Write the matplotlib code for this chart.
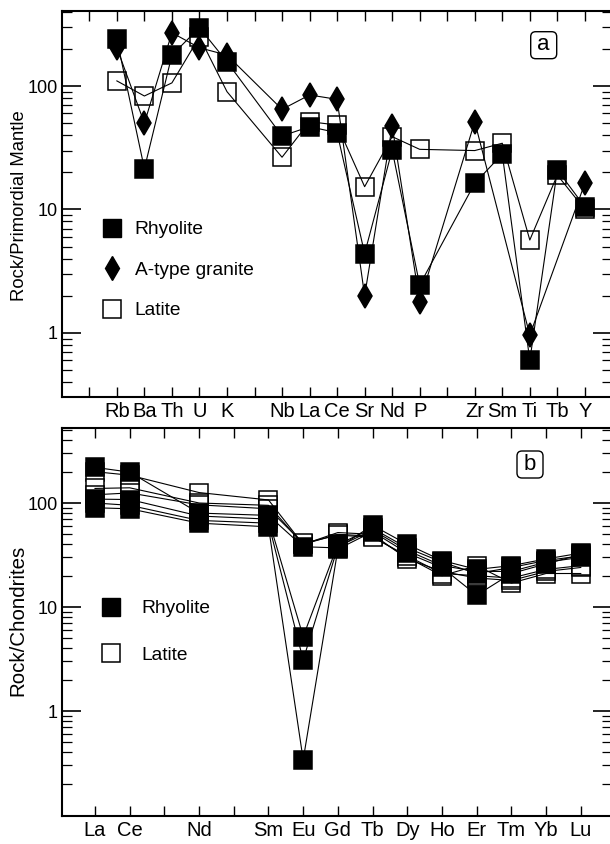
import numpy as np
import matplotlib
matplotlib.use('Agg')
import matplotlib.pyplot as plt
from matplotlib.lines import Line2D
from matplotlib.patches import FancyBboxPatch
from matplotlib.ticker import FixedLocator, LogLocator, NullFormatter, FuncFormatter

plt.rcParams['font.family'] = ['Liberation Sans', 'DejaVu Sans']

# ---- panel a: primordial-mantle normalised spider diagram ----
spider_slots = ['', 'Rb', 'Ba', 'Th', 'U', 'K', '', 'Nb', 'La', 'Ce', 'Sr', 'Nd', 'P',
                '', 'Zr', 'Sm', 'Ti', 'Tb', 'Y']
spider_elements = ['Rb', 'Ba', 'Th', 'U', 'K', 'Nb', 'La', 'Ce', 'Sr', 'Nd', 'P',
                   'Zr', 'Sm', 'Ti', 'Tb', 'Y']
rhyolite_pm = [239, 21.4, 178, 297, 157, 39.4, 46.8, 41.9, 4.4, 30.3, 2.45,
               16.3, 28.1, 0.60, 20.9, 10.5]
granite_pm = [204, 50, 270, 204, 178, 64.7, 84.6, 78, 2.0, 47.5, 1.79,
              51.4, np.nan, 0.96, np.nan, 16.3]
latite_pm = [110, 83, 106, 250, 90, 26.5, 51.4, 48.3, 15.3, 38.9, 30.7,
             30, 34.4, 5.66, 19, 10]

# ---- panel b: chondrite-normalised REE ----
ree_slots = ['La', 'Ce', '', 'Nd', '', 'Sm', 'Eu', 'Gd', 'Tb', 'Dy', 'Ho', 'Er', 'Tm', 'Yb', 'Lu']
ree_elements = ['La', 'Ce', 'Nd', 'Sm', 'Eu', 'Gd', 'Tb', 'Dy', 'Ho', 'Er', 'Tm', 'Yb', 'Lu']
rhyolite_ree = [
    [220, 198, 80, 76, 38, 37, 61, 40, 28, 23, 25, 29, 33],
    [109, 108, 75, 70, 5.2, 40, 57, 37, 27, 21, 24, 28, 31],
    [100, 95, 68, 64, 3.1, 38, 55, 35, 25, 22, 22, 27, 30],
    [90, 88, 64, 59, 0.34, 36, 53, 33, 24, 13, 21, 26, 32],
]
latite_ree = [
    [200, 185, 126, 107, 40, 50, 48, 30, 20, 25, 17, 21, 21],
    [138, 140, 100, 95, 40, 52, 50, 29, 22, 19, 18, 22, 24],
    [120, 125, 96, 88, 41, 49, 47, 31, 21, 20, 19, 23, 25],
]

W, H = 610, 844
fig = plt.figure(figsize=(W / 100, H / 100), dpi=100)


def px_axes(left, top, right, bottom):
    return fig.add_axes([left / W, 1 - bottom / H, (right - left) / W, (bottom - top) / H])


def draw(ax, slots, elements, values, marker, ms, face, z):
    x = np.array([slots.index(e) for e in elements], float)
    y = np.asarray(values, float)
    ok = ~np.isnan(y)
    ax.plot(x[ok], y[ok], ls='none', marker=marker, ms=ms, mfc=face, mec='black',
            mew=1.1, zorder=z)
    ax.plot(x[ok], y[ok], color='black', lw=0.8, zorder=z + 0.5)


def style(ax, slots):
    ax.set_yscale('log')
    ax.set_xticks(range(len(slots)))
    ax.set_xticklabels(slots, fontsize=14.5)
    ax.yaxis.set_major_locator(FixedLocator([1, 10, 100]))
    ax.yaxis.set_minor_locator(LogLocator(base=10, subs=np.arange(2, 10)))
    ax.yaxis.set_major_formatter(FuncFormatter(lambda v, p: f'{v:g}'))
    ax.yaxis.set_minor_formatter(NullFormatter())
    ax.tick_params(axis='y', which='major', direction='in', length=13.5, width=1.2,
                   left=True, right=True, labelsize=13, pad=3)
    ax.tick_params(axis='y', which='minor', direction='in', length=7, width=0.9,
                   left=True, right=True)
    ax.tick_params(axis='x', which='major', direction='in', length=7, width=1.0,
                   top=True, bottom=True, pad=3.5)
    for s in ax.spines.values():
        s.set_linewidth(1.5)


def label_box(letter, left, top):
    # rounded box in pixel coordinates
    x0, y0 = left / 100, (H - top - 27) / 100
    box = FancyBboxPatch((x0, y0), 0.26, 0.27, boxstyle='round,pad=0,rounding_size=0.05',
                         transform=fig.dpi_scale_trans, fc='white', ec='black', lw=1.0)
    fig.patches.append(box)
    fig.text(x0 + 0.13, y0 + 0.14, letter, transform=fig.dpi_scale_trans,
             ha='center', va='center', fontsize=16)


# panel a
ax_a = px_axes(61.8, 11, 612.4, 397)
draw(ax_a, spider_slots, spider_elements, latite_pm, 's', 12.5, 'white', 2)
draw(ax_a, spider_slots, spider_elements, granite_pm, 'd', 12.5, 'black', 3)
draw(ax_a, spider_slots, spider_elements, rhyolite_pm, 's', 12.5, 'black', 4)
style(ax_a, spider_slots)
ax_a.set_xlim(-1, 19)
ax_a.set_ylim(0.303, 405)
fig.text(20 / W, 1 - 206 / H, 'Rock/Primordial Mantle', rotation=90,
         ha='center', va='center', fontsize=13.3)
handles_a = [
    Line2D([], [], ls='none', marker='s', ms=12.5, mfc='black', mec='black'),
    Line2D([], [], ls='none', marker='d', ms=12.5, mfc='black', mec='black'),
    Line2D([], [], ls='none', marker='s', ms=12.5, mfc='white', mec='black', mew=1.1),
]
fig.legend(handles_a, ['Rhyolite', 'A-type granite', 'Latite'], loc='upper left',
           bbox_to_anchor=(102 / W, 1 - 221 / H), frameon=False, fontsize=13.8,
           handlelength=1.0, handletextpad=0.7, labelspacing=1.2,
           borderpad=0, borderaxespad=0)
label_box('a', 530.7, 31.7)

# panel b
ax_b = px_axes(62, 428, 612, 816)
for vals in latite_ree:
    draw(ax_b, ree_slots, ree_elements, vals, 's', 12.5, 'white', 2)
for vals in rhyolite_ree:
    draw(ax_b, ree_slots, ree_elements, vals, 's', 12.5, 'black', 3)
style(ax_b, ree_slots)
ax_b.set_xlim(-0.951, 14.90)
ax_b.set_ylim(0.098, 526)
fig.text(18 / W, 1 - 620 / H, 'Rock/Chondrites', rotation=90,
         ha='center', va='center', fontsize=14.8)
handles_b = [
    Line2D([], [], ls='none', marker='s', ms=12.5, mfc='black', mec='black'),
    Line2D([], [], ls='none', marker='s', ms=12.5, mfc='white', mec='black', mew=1.1),
]
fig.legend(handles_b, ['Rhyolite', 'Latite'], loc='upper left',
           bbox_to_anchor=(101 / W, 1 - 600 / H), frameon=False, fontsize=13.8,
           handlelength=1.0, handletextpad=1.1, labelspacing=1.5,
           borderpad=0, borderaxespad=0)
label_box('b', 517, 451)

fig.savefig('out.png', dpi=100)
